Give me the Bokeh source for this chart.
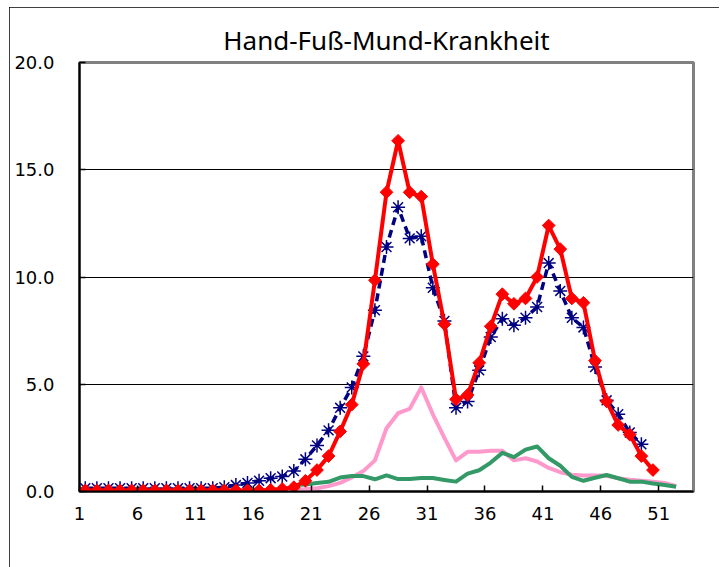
import math
from bokeh.plotting import figure
from bokeh.models import FixedTicker, NumeralTickFormatter
from bokeh.embed import file_html
from bokeh.resources import INLINE

# ---- data ----
title_text = "Hand-Fuß-Mund-Krankheit"
weeks = list(range(1, 53))
tick_weeks = [1, 6, 11, 16, 21, 26, 31, 36, 41, 46, 51]
tick_labels = ["1", "6", "11", "16", "21", "26", "31", "36", "41", "46", "51"]
y_ticks = [0, 5, 10, 15, 20]

red = [0.05, 0.05, 0.05, 0.05, 0.05, 0.05, 0.05, 0.05, 0.05, 0.05,
       0.05, 0.05, 0.05, 0.05, 0.05, 0.05, 0.08, 0.12, 0.2, 0.5,
       1.0, 1.65, 2.8, 4.05, 5.95, 9.85, 13.95, 16.35, 13.95, 13.75,
       10.6, 7.8, 4.3, 4.5, 6.0, 7.7, 9.2, 8.75, 9.0, 10.0,
       12.4, 11.3, 9.0, 8.8, 6.1, 4.2, 3.1, 2.65, 1.65, 1.0,
       None, None]

navy = [0.15, 0.15, 0.15, 0.15, 0.15, 0.15, 0.15, 0.15, 0.15, 0.15,
        0.15, 0.15, 0.2, 0.3, 0.4, 0.5, 0.62, 0.7, 0.95, 1.5,
        2.15, 2.85, 3.9, 4.85, 6.3, 8.45, 11.4, 13.25, 11.8, 11.9,
        9.5, 7.95, 3.9, 4.2, 5.65, 7.2, 8.05, 7.75, 8.1, 8.6,
        10.65, 9.35, 8.1, 7.65, 5.8, 4.25, 3.6, 2.75, 2.2, None,
        None, None]

pink = [None, None, None, None, None, None, None, None, None, None,
        None, None, None, None, None, None, None, 0.05, 0.05, 0.1,
        0.15, 0.25, 0.4, 0.65, 0.95, 1.45, 2.95, 3.65, 3.85, 4.85,
        3.6, 2.5, 1.45, 1.85, 1.85, 1.9, 1.9, 1.45, 1.55, 1.4,
        1.1, 0.9, 0.78, 0.75, 0.75, 0.73, 0.62, 0.55, 0.5, 0.45,
        0.4, 0.25]

green = [None, None, None, None, None, None, None, None, None, None,
         None, None, None, None, None, None, None, None, 0.3, 0.33,
         0.4, 0.45, 0.65, 0.72, 0.72, 0.57, 0.75, 0.58, 0.58, 0.63,
         0.63, 0.54, 0.46, 0.83, 0.99, 1.35, 1.8, 1.6, 1.95, 2.1,
         1.55, 1.2, 0.68, 0.5, 0.64, 0.77, 0.62, 0.46, 0.46, 0.37,
         0.3, 0.22]


def nan(vals):
    return [float("nan") if v is None else v for v in vals]


p = figure(width=710, height=560, x_range=(0.5, 53.5), y_range=(0, 20),
           output_backend="svg", toolbar_location=None,
           min_border_left=70, min_border_right=26,
           min_border_top=55, min_border_bottom=76,
           title=title_text)
p.margin = (7, 0, 0, 9)
p.styles = {"outline": "1px solid black", "outline-offset": "-1px"}

p.title.text_font = "Noto Sans"
p.title.text_font_size = "26px"
p.title.text_font_style = "normal"
p.title.text_color = "black"
p.title.align = "center"
p.title.offset = 4

p.background_fill_color = "white"
p.border_fill_color = "white"
p.outline_line_color = "#808080"
p.outline_line_width = 3

# x axis: ticks at category boundaries
xt = [w - 0.5 for w in tick_weeks]
p.xaxis.ticker = FixedTicker(ticks=xt)
p.xaxis.major_label_overrides = {t: l for t, l in zip(xt, tick_labels)}
p.yaxis.ticker = FixedTicker(ticks=y_ticks)
p.yaxis.formatter = NumeralTickFormatter(format="0.0")

for ax in (p.xaxis, p.yaxis):
    ax.axis_line_color = "black"
    ax.axis_line_width = 2
    ax.major_tick_line_color = "black"
    ax.major_tick_line_width = 1.5
    ax.major_tick_in = 6
    ax.major_tick_out = 0
    ax.minor_tick_line_color = None
    ax.major_label_text_font = "DejaVu Sans"
    ax.major_label_text_font_size = "18px"
    ax.major_label_text_color = "black"
p.xaxis.major_label_standoff = 15
p.yaxis.major_label_standoff = 25

p.xgrid.visible = False
p.ygrid.ticker = FixedTicker(ticks=[5, 10, 15])
p.ygrid.grid_line_color = "black"
p.ygrid.grid_line_width = 1

p.line(weeks, nan(pink), line_color="#FF99CC", line_width=4, line_join="round")
p.line(weeks, nan(green), line_color="#339966", line_width=4, line_join="round")
p.line(weeks, nan(navy), line_color="#000080", line_width=3.5, line_dash="8 5",
       line_join="round")
p.scatter(weeks, nan(navy), marker="asterisk", size=14, line_color="#000080",
          line_width=1.5)
p.line(weeks, nan(red), line_color="#FF0000", line_width=4, line_join="round")
p.scatter(weeks, nan(red), marker="square", angle=math.pi / 4, size=9,
          fill_color="#FF0000", line_color="#FF0000")

open("out.html", "w").write(file_html(p, INLINE))
